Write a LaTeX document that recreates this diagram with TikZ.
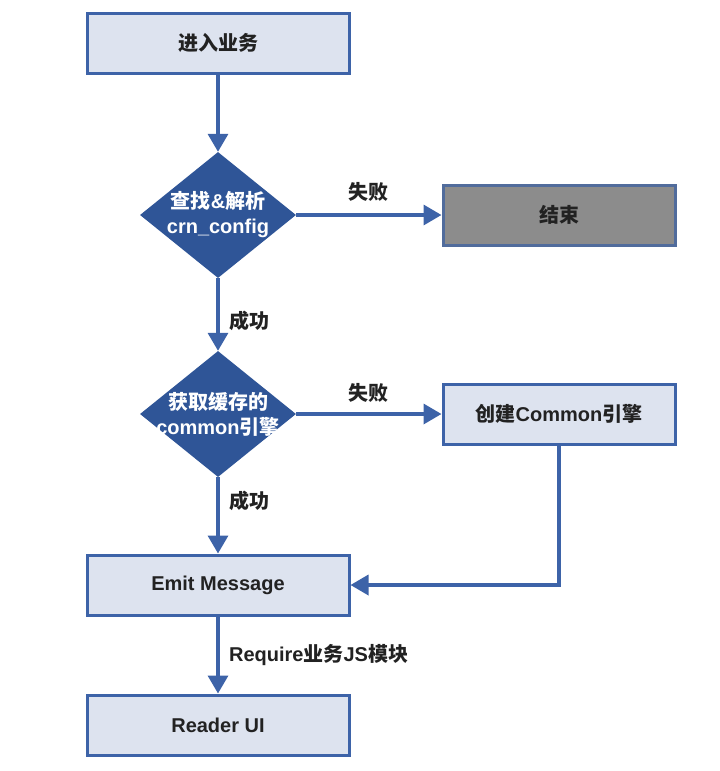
\documentclass[tikz,border=0pt]{standalone}
\usepackage{fontspec}
\setmainfont{Liberation Sans}
\newfontfamily\cjk{Noto Sans CJK SC}
\usetikzlibrary{shapes.geometric,arrows.meta}
\definecolor{BoxFill}{HTML}{DDE3EF}
\definecolor{BoxLine}{HTML}{3D63A8}
\definecolor{DiaFill}{HTML}{2F5597}
\definecolor{EndFill}{HTML}{8C8C8C}
\definecolor{Ink}{HTML}{222222}
\begin{document}
\begin{tikzpicture}[x=1pt,y=-1pt,
  every node/.style={font=\fontsize{20}{25}\selectfont\bfseries,text=Ink},
  stepbox/.style={draw=BoxLine,line width=3pt,fill=BoxFill,minimum width=262pt,minimum height=60pt,inner sep=0pt},
  sidebox/.style={stepbox,minimum width=232pt},
  decide/.style={diamond,fill=DiaFill,minimum width=156pt,minimum height=126pt,inner sep=0pt},
  inside/.style={label={[text=white,align=center]center:#1}},
  flow/.style={BoxLine,line width=3.5pt,-{Triangle[length=18pt,width=20pt]}}]
\useasboundingbox (0,0) rectangle (720,771);
\node[stepbox] (enter) at (218,43) {\cjk 进入业务};
\node[decide,inside={{\cjk 查找}\&{\cjk 解析}\\crn\_config}] (parse) at (218,215) {};
\node[sidebox,fill=EndFill,draw=BoxLine!70!gray] (stop) at (559,215) {\cjk 结束};
\node[decide,inside={\cjk 获取缓存的\\common{\cjk 引擎}}] (cache) at (218,414) {};
\node[sidebox] (create) at (559,414) {{\cjk 创建}Common{\cjk 引擎}};
\node[stepbox] (emit) at (218,585) {Emit Message};
\node[stepbox] (reader) at (218,725) {Reader UI};
\draw[flow] (enter)--(parse);
\draw[flow] (parse)--(stop) node[midway,above=8pt] (fail1) {\cjk 失败};
\draw[flow] (parse)--(cache) node[midway,right=6pt,yshift=-6pt] (ok1) {\cjk 成功};
\draw[flow] (cache)--(create) node[midway,above=6pt] (fail2) {\cjk 失败};
\draw[flow] (cache)--(emit) node[midway,right=6pt,yshift=14pt] (ok2) {\cjk 成功};
\draw[flow] (create)|-(emit);
\draw[flow] (emit)--(reader) node[midway,right=6pt] (req) {Require{\cjk 业务}JS{\cjk 模块}};
\end{tikzpicture}
\end{document}
